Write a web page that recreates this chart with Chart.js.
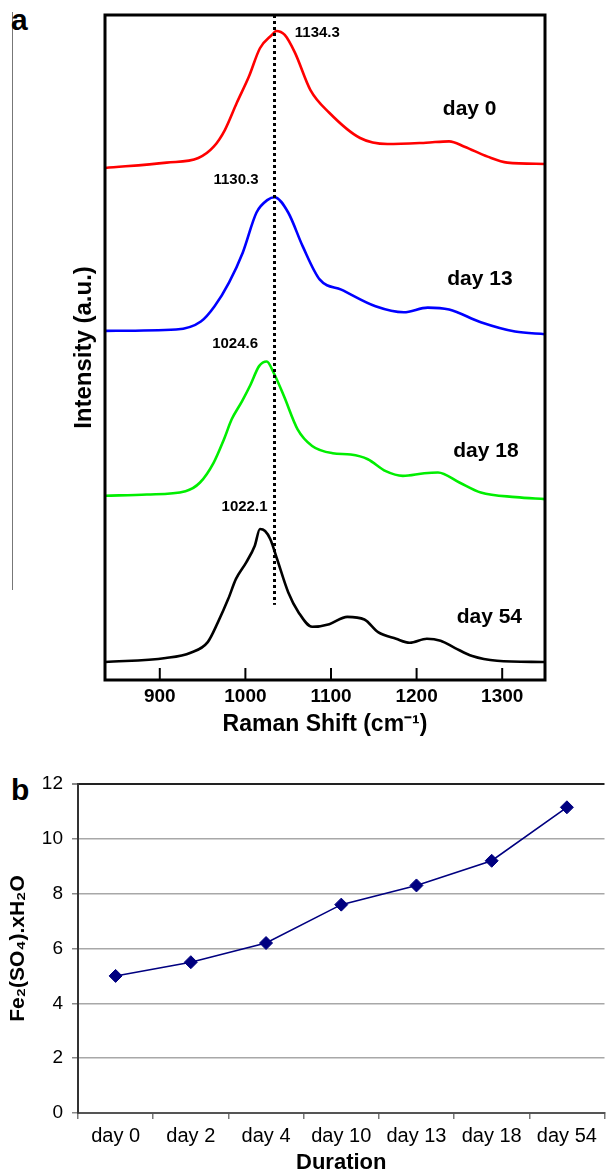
<!DOCTYPE html>
<html>
<head>
<meta charset="utf-8">
<script src="https://cdn.jsdelivr.net/npm/chart.js@4.4.0/dist/chart.umd.min.js"></script>
<style>
    body { margin: 0; background: #fff; width: 608px; height: 1174px; overflow: hidden; position: relative; font-family: "Liberation Sans", Arial, sans-serif; }
    .painel { position: absolute; left: 0; }
    #caixaA { top: 0; width: 608px; height: 745px; }
    #caixaB { top: 750px; width: 612px; height: 426px; }
    .letra { position: absolute; left: 11px; font-weight: bold; font-size: 30px; line-height: 1; color: #000; }
    #linhaLateral { position: absolute; left: 12px; top: 12px; width: 1px; height: 578px; background: #777; }
</style>
</head>
<body>
<div id="linhaLateral"></div>
<div class="letra" style="top: 5px;">a</div>
<div class="letra" style="top: 775px;">b</div>
<div class="painel" id="caixaA"><canvas id="chartRaman"></canvas></div>
<div class="painel" id="caixaB"><canvas id="chartFerro"></canvas></div>

<script>
// Espectros Raman (a.u. empilhados)
var ticksRaman = [900, 1000, 1100, 1200, 1300];

var dia0X = [836, 908, 945, 963, 976, 990, 1004, 1017, 1031, 1036, 1046, 1058, 1076, 1098, 1134, 1166, 1211, 1238, 1256, 1283, 1306, 1350];
var dia0Y = [77.0, 77.8, 78.5, 80.2, 82.7, 86.8, 90.7, 95.0, 97.0, 97.6, 97.0, 94.3, 88.7, 85.3, 81.5, 80.6, 80.8, 81.0, 80.2, 78.7, 77.8, 77.6];

var dia13X = [836, 919, 948, 964, 981, 997, 1013, 1026, 1034, 1050, 1067, 1087, 1112, 1152, 1185, 1213, 1238, 1275, 1315, 1350];
var dia13Y = [52.5, 52.7, 53.9, 56.2, 59.8, 64.3, 70.3, 72.2, 72.6, 70.3, 65.2, 60.2, 58.7, 56.2, 55.3, 56.0, 55.7, 53.8, 52.4, 52.0];

var dia18X = [836, 885, 930, 947, 963, 975, 984, 996, 1006, 1016, 1025, 1033, 1045, 1061, 1078, 1102, 1123, 1143, 1164, 1184, 1209, 1225, 1250, 1275, 1316, 1350];
var dia18Y = [27.7, 27.9, 28.4, 29.7, 32.7, 36.2, 39.2, 41.9, 44.4, 47.2, 47.9, 46.2, 42.7, 37.7, 35.2, 34.1, 33.9, 33.2, 31.4, 30.7, 31.1, 31.2, 29.7, 28.2, 27.5, 27.2];

var dia54X = [836, 907, 936, 956, 968, 980, 989, 1001, 1011, 1017, 1023, 1029, 1037, 1050, 1062, 1078, 1098, 1119, 1139, 1155, 1176, 1192, 1212, 1228, 1245, 1265, 1294, 1350];
var dia54Y = [2.7, 3.3, 4.1, 5.7, 8.7, 12.2, 15.2, 17.7, 20.2, 22.7, 22.4, 21.2, 18.2, 13.2, 10.2, 8.0, 8.4, 9.5, 9.1, 7.2, 6.2, 5.6, 6.2, 5.9, 4.8, 3.6, 2.9, 2.7];

// linha pontilhada de referência
var linhaRefX = [1034, 1034];
var linhaRefY = [100, 11.3];

var picosTexto = ['1134.3', '1130.3', '1024.6', '1022.1'];
var picosX = [1084, 989, 988, 999];
var picosY = [97.3, 75.2, 50.5, 26.0];

var diasTexto = ['day 0', 'day 13', 'day 18', 'day 54'];
var diasX = [1262, 1274, 1281, 1285];
var diasY = [85.9, 60.2, 34.4, 9.5];

// Painel b
var duracao = ['day 0', 'day 2', 'day 4', 'day 10', 'day 13', 'day 18', 'day 54'];
var sulfatoFerro = [5.0, 5.5, 6.2, 7.6, 8.3, 9.2, 11.15];

var fonte = '"Liberation Sans", Arial, sans-serif';
Chart.defaults.font.family = fonte;
Chart.defaults.color = '#000';

function juntarPontos(xs, ys) {
    var pontos = [];
    for (var i = 0; i < xs.length; i++) {
        pontos.push({ x: xs[i], y: ys[i] });
    }
    return pontos;
}

function curva(xs, ys, cor) {
    return {
        data: juntarPontos(xs, ys),
        borderColor: cor,
        borderWidth: 2.6,
        pointRadius: 0,
        cubicInterpolationMode: 'monotone',
        fill: false
    };
}

const molduraRaman = {
    id: 'molduraRaman',
    afterDatasetsDraw(chart) {
        const { ctx, chartArea: { top, bottom, left, right }, scales: { x, y } } = chart;
        ctx.save();
        ctx.strokeStyle = '#000';
        ctx.lineWidth = 3;
        ctx.strokeRect(left, top, right - left, bottom - top);

        // marcas do eixo x para dentro
        ctx.lineWidth = 2;
        for (var i = 0; i < ticksRaman.length; i++) {
            var px = x.getPixelForValue(ticksRaman[i]);
            ctx.beginPath();
            ctx.moveTo(px, bottom);
            ctx.lineTo(px, bottom - 12);
            ctx.stroke();
        }

        ctx.fillStyle = '#000';
        ctx.textAlign = 'center';
        ctx.textBaseline = 'middle';
        ctx.font = 'bold 15px ' + fonte;
        for (var j = 0; j < picosTexto.length; j++) {
            ctx.fillText(picosTexto[j], x.getPixelForValue(picosX[j]), y.getPixelForValue(picosY[j]));
        }
        ctx.font = 'bold 21px ' + fonte;
        for (var k = 0; k < diasTexto.length; k++) {
            ctx.fillText(diasTexto[k], x.getPixelForValue(diasX[k]), y.getPixelForValue(diasY[k]));
        }
        ctx.restore();
    }
};

var graficoRaman = new Chart(document.getElementById('chartRaman'), {
    type: 'line',
    data: {
        datasets: [
            {
                data: juntarPontos(linhaRefX, linhaRefY),
                borderColor: '#000',
                borderWidth: 3,
                borderDash: [3, 3],
                pointRadius: 0
            },
            curva(dia0X, dia0Y, '#ff0000'),
            curva(dia13X, dia13Y, '#0000ff'),
            curva(dia18X, dia18Y, '#00ee00'),
            curva(dia54X, dia54Y, '#000000')
        ]
    },
    options: {
        responsive: true,
        maintainAspectRatio: false,
        animation: false,
        layout: { padding: { left: 0, top: 15, right: 63, bottom: 0 } },
        plugins: { legend: { display: false }, tooltip: { enabled: false } },
        scales: {
            x: {
                type: 'linear',
                min: 836,
                max: 1350,
                afterBuildTicks: function (eixo) {
                    eixo.ticks = ticksRaman.map(function (v) { return { value: v }; });
                },
                afterFit: function (eixo) { eixo.height = 65; },
                grid: { display: false, drawTicks: false },
                border: { display: false },
                ticks: {
                    font: { size: 19, weight: 'bold' },
                    padding: 5,
                    maxRotation: 0,
                    color: '#000',
                    callback: function (valor) { return String(valor); }
                },
                title: {
                    display: true,
                    text: 'Raman Shift (cm\u207B\u00B9)',
                    font: { size: 23, weight: 'bold' },
                    padding: { top: 0, bottom: 6.6 },
                    color: '#000'
                }
            },
            y: {
                min: 0,
                max: 100,
                afterFit: function (eixo) { eixo.width = 105; },
                ticks: { display: false },
                grid: { display: false, drawTicks: false },
                border: { display: false },
                title: {
                    display: true,
                    text: 'Intensity (a.u.)',
                    font: { size: 24, weight: 'bold' },
                    padding: { top: 69.6, bottom: 0 },
                    color: '#000'
                }
            }
        }
    },
    plugins: [molduraRaman]
});

var graficoFerro = new Chart(document.getElementById('chartFerro'), {
    type: 'line',
    data: {
        labels: duracao,
        datasets: [
            {
                data: sulfatoFerro,
                borderColor: '#000080',
                backgroundColor: '#000080',
                borderWidth: 1.6,
                pointStyle: 'rectRot',
                pointRadius: 6.5,
                pointBorderWidth: 1,
                tension: 0
            }
        ]
    },
    options: {
        responsive: true,
        maintainAspectRatio: false,
        animation: false,
        layout: { padding: { left: 0, top: 34, right: 2, bottom: 0 } },
        plugins: { legend: { display: false }, tooltip: { enabled: false } },
        scales: {
            x: {
                type: 'category',
                offset: true,
                afterFit: function (eixo) { eixo.height = 63; },
                grid: { offset: true, drawOnChartArea: false, tickLength: 6, tickColor: '#777', lineWidth: 1.5 },
                border: { color: '#555', width: 2 },
                ticks: { font: { size: 20 }, padding: 5, maxRotation: 0, autoSkip: false, color: '#000' },
                title: {
                    display: true,
                    text: 'Duration',
                    font: { size: 22, weight: 'bold' },
                    padding: { top: 0, bottom: 0 },
                    color: '#000'
                }
            },
            y: {
                min: 0,
                max: 12,
                afterFit: function (eixo) { eixo.width = 78; },
                ticks: { stepSize: 2, font: { size: 19 }, padding: 9, color: '#000' },
                grid: {
                    color: function (c) { return c.tick && c.tick.value === 12 ? '#222' : '#a8a8a8'; },
                    lineWidth: function (c) { return c.tick && c.tick.value === 12 ? 2 : 1.5; },
                    tickLength: 6,
                    tickColor: '#888'
                },
                border: { color: '#333', width: 2 },
                title: {
                    display: true,
                    text: 'Fe\u2082(SO\u2084).xH\u2082O',
                    font: { size: 21, weight: 'bold' },
                    padding: { top: 5.4, bottom: 0 },
                    color: '#000'
                }
            }
        }
    }
});
</script>
</body>
</html>
